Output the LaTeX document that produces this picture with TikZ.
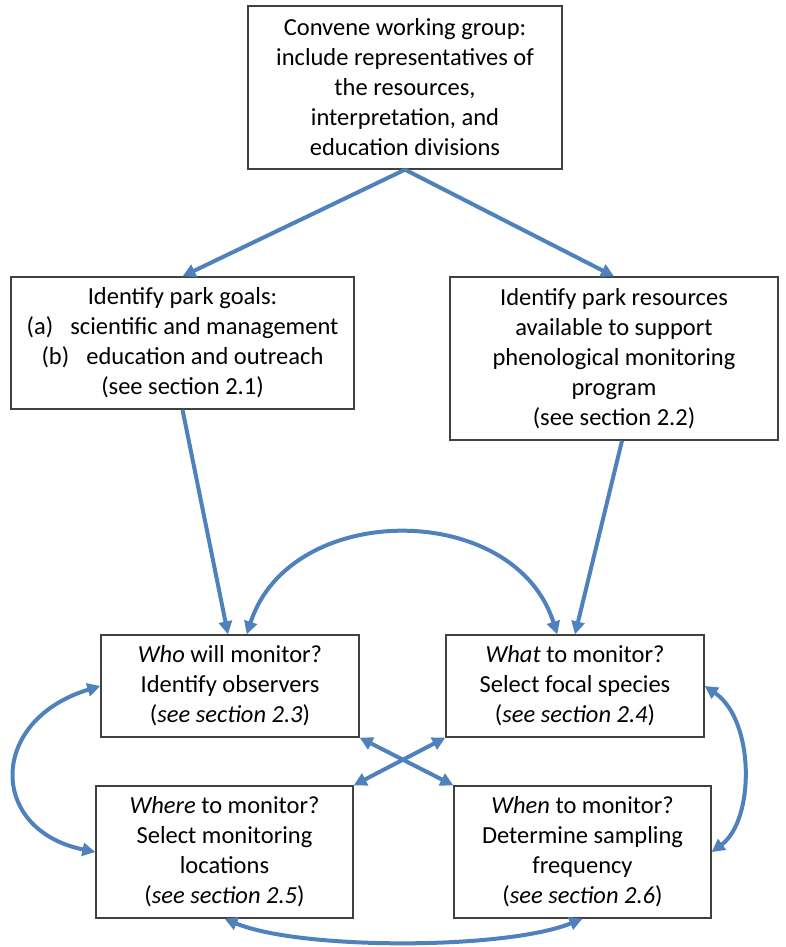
\documentclass[tikz,border=0pt]{standalone}
\usepackage{fontspec}
\setmainfont{Carlito}
\usetikzlibrary{arrows.meta,calc}
\definecolor{linkblue}{RGB}{79,129,189}

\begin{document}
\begin{tikzpicture}[x=1pt,y=-1pt,
  box/.style={draw=black!75,line width=1.3pt,align=center,inner sep=0pt,font=\fontsize{24.5}{30}\selectfont},
  link/.style={draw=linkblue,line width=4pt,-{Triangle[length=13pt,width=13pt]}},
  both/.style={draw=linkblue,line width=4pt,{Triangle[length=13pt,width=13pt]}-{Triangle[length=13pt,width=13pt]}}]
\useasboundingbox (0,0) rectangle (786,947);

\node[box,minimum width=314,minimum height=163] (group) at (405,87.5)
  {Convene working group:\\include representatives of\\the resources,\\interpretation, and\\education divisions};
\node[box,minimum width=343,minimum height=132] (goals) at (182.5,343)
  {Identify park goals:\\(a)\hspace{0.7em}scientific and management\\(b)\hspace{0.7em}education and outreach\\(see section 2.1)};
\node[box,minimum width=328,minimum height=163] (assets) at (614,358.5)
  {Identify park resources\\available to support\\phenological monitoring\\program\\(see section 2.2)};

\node[box,minimum width=258,minimum height=102] (who) at (230,686)
  {\textit{Who} will monitor?\\Identify observers\\(\textit{see section 2.3})};
\node[box,minimum width=258,minimum height=102] (what) at (575,686)
  {\textit{What} to monitor?\\Select focal species\\(\textit{see section 2.4})};
\node[box,minimum width=257,minimum height=132] (where) at (224.5,852)
  {\textit{Where} to monitor?\\Select monitoring\\locations\\(\textit{see section 2.5})};
\node[box,minimum width=257,minimum height=132] (when) at (582.5,852)
  {\textit{When} to monitor?\\Determine sampling\\frequency\\(\textit{see section 2.6})};

\draw[link] (group.south) -- (goals.north);
\draw[link] (group.south) -- (assets.north);
\draw[link] (goals.south) -- ($(who.north)+(-2,0)$);
\draw[link] ($(assets.south)+(8,0)$) -- (what.north);

\draw[both] (who.72) .. controls (290,500) and (515,500) .. (what.109);
\draw[both] (who.west) .. controls (-12,720) and (-12,830) .. (where.west);
\draw[both] (what.east) .. controls (755,720) and (755,820) .. (when.east);
\draw[both] (where.south) .. controls (300,950) and (505,950) .. (when.south);
\draw[both] (who.south east) -- (when.north west);
\draw[both] (what.south west) -- (where.north east);
\end{tikzpicture}
\end{document}
